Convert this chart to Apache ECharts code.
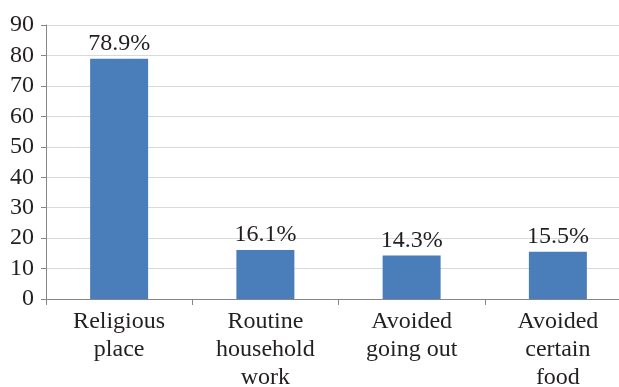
<!DOCTYPE html>
<html>
<head>
<meta charset="utf-8">
<script src="https://cdn.jsdelivr.net/npm/echarts@6/dist/echarts.min.js"></script>
<style>
  html, body { margin: 0; padding: 0; background: #fff; }
  #chart { width: 619px; height: 387px; }
</style>
</head>
<body>
<div id="chart"></div>
<script>
const categories = ['Religious\nplace', 'Routine\nhousehold\nwork', 'Avoided\ngoing out', 'Avoided\ncertain\nfood'];
const values = [78.9, 16.1, 14.3, 15.5];

const chart = echarts.init(document.getElementById('chart'));
const font = '"Liberation Serif", "Times New Roman", serif';

chart.setOption({
    animation: false,
    grid: { left: 46, width: 585, top: 25, height: 274, outerBoundsMode: 'none', containLabel: false },
    xAxis: {
        type: 'category',
        data: categories,
        axisLine: { lineStyle: { color: '#868686', width: 1 } },
        axisTick: { show: true, alignWithLabel: false, length: 6, lineStyle: { color: '#868686' } },
        axisLabel: {
            color: '#231f20', fontFamily: font, fontSize: 24, lineHeight: 28, margin: 9, interval: 0
        }
    },
    yAxis: {
        type: 'value',
        min: 0,
        max: 90,
        interval: 10,
        axisLine: { show: true, lineStyle: { color: '#868686', width: 1 } },
        axisTick: { show: true, length: 5, lineStyle: { color: '#868686' } },
        splitLine: { show: true, lineStyle: { color: '#d9d9d9', width: 1 } },
        axisLabel: { color: '#231f20', fontFamily: font, fontSize: 24, margin: 12 }
    },
    series: [{
        type: 'bar',
        data: values,
        barWidth: 58,
        itemStyle: { color: '#4a7ebb' },
        label: {
            show: true,
            position: 'top',
            distance: 3,
            color: '#231f20',
            fontFamily: font,
            fontSize: 24,
            formatter: p => p.value.toFixed(1) + '%'
        }
    }]
});
</script>
</body>
</html>
